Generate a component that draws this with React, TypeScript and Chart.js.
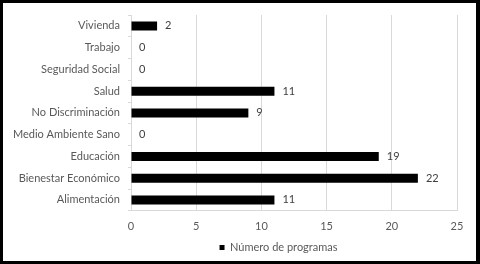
import React, { useEffect, useRef } from "react";
import { Chart, registerables } from "chart.js";

Chart.register(...registerables);

const categories = [
  "Vivienda",
  "Trabajo",
  "Seguridad Social",
  "Salud",
  "No Discriminación",
  "Medio Ambiente Sano",
  "Educación",
  "Bienestar Económico",
  "Alimentación",
];
const programas = [2, 0, 0, 11, 9, 0, 19, 22, 11];
const seriesLabel = "Número de programas";
const xMin = 0;
const xMax = 25;
const xStep = 5;

const FONT = "Lato, 'Open Sans', sans-serif";

const framePlugin = {
  id: "frame",
  afterLayout(chart: any) {
    if (chart.legend) {
      chart.legend.left += 48;
      chart.legend.right += 48;
    }
  },
  beforeDraw(chart: any) {
    const { ctx, width, height } = chart;
    ctx.save();
    ctx.fillStyle = "#ffffff";
    ctx.fillRect(0, 0, width, height);
    ctx.restore();
  },
  afterDraw(chart: any) {
    const { ctx, width, height } = chart;
    ctx.save();
    ctx.fillStyle = "#000000";
    ctx.fillRect(0, 0, width, 3);
    ctx.fillRect(0, 0, 3, height);
    ctx.fillRect(width - 4, 0, 4, height);
    ctx.fillRect(0, height - 3, width, 3);
    ctx.restore();
  },
};

const valueLabels = {
  id: "valueLabels",
  afterDatasetsDraw(chart: any) {
    const { ctx } = chart;
    const meta = chart.getDatasetMeta(0);
    const data = chart.data.datasets[0].data as number[];
    ctx.save();
    ctx.font = `11px ${FONT}`;
    ctx.fillStyle = "#404040";
    ctx.textAlign = "left";
    ctx.textBaseline = "middle";
    meta.data.forEach((bar: any, i: number) => {
      ctx.fillText(String(data[i]), bar.x + 8, bar.y);
    });
    ctx.restore();
  },
};

export default function App() {
  const ref = useRef<HTMLCanvasElement>(null);
  useEffect(() => {
    if (!ref.current) return;
    const chart = new Chart(ref.current, {
      type: "bar",
      data: {
        labels: categories,
        datasets: [
          {
            label: seriesLabel,
            data: programas,
            backgroundColor: "#000000",
            borderWidth: 0,
            barThickness: 9,
            inflateAmount: 0,
          },
        ],
      },
      options: {
        indexAxis: "y",
        responsive: false,
        animation: false,
        layout: { padding: { left: 4, right: 23, top: 15, bottom: 1 } },
        scales: {
          x: {
            min: xMin,
            max: xMax,
            ticks: {
              stepSize: xStep,
              color: "#595959",
              font: { family: FONT, size: 11 },
              padding: 9,
            },
            grid: { color: "#d9d9d9", drawTicks: false },
            border: { color: "#d9d9d9" },
            afterFit(scale: any) {
              scale.height -= 8;
            },
          },
          y: {
            ticks: {
              color: "#595959",
              font: { family: FONT, size: 11 },
              padding: 8,
            },
            grid: {
              drawOnChartArea: false,
              offset: true,
              tickLength: 3,
              color: "#d9d9d9",
            },
            border: { color: "#d9d9d9" },
            afterFit(scale: any) {
              scale.width = 127;
            },
          },
        },
        plugins: {
          legend: {
            position: "bottom",
            labels: {
              boxWidth: 5,
              boxHeight: 5,
              color: "#595959",
              font: { family: FONT, size: 11 },
              padding: 8,
            },
          },
          tooltip: { enabled: false },
        },
      },
      plugins: [framePlugin, valueLabels],
    });
    return () => chart.destroy();
  }, []);
  return (
    <div style={{ position: "fixed", left: 0, top: 0, width: 480, height: 264 }}>
      <canvas ref={ref} width={480} height={264} style={{ display: "block" }} />
    </div>
  );
}
